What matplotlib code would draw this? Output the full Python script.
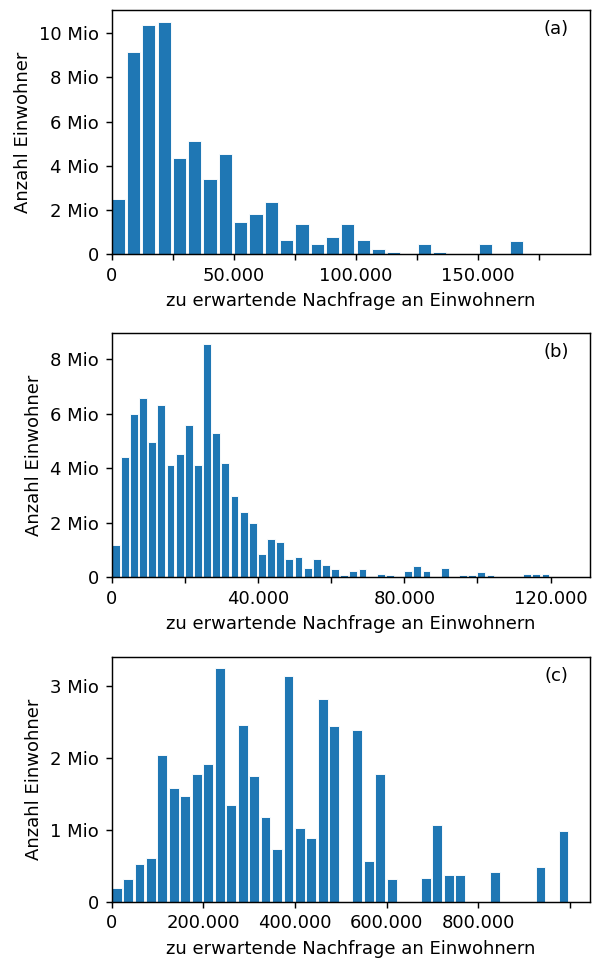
import numpy as np
import matplotlib
matplotlib.use("Agg")
import matplotlib.pyplot as plt
from matplotlib.ticker import FuncFormatter

# Population per demand class (in millions of inhabitants), one value per bin
bin_width_a = 6270
population_a = [2.49, 9.16, 10.39, 10.53, 4.35, 5.11, 3.38, 4.55, 1.47, 1.80,
                2.36, 0.65, 1.34, 0.44, 0.78, 1.34, 0.65, 0.23, 0.09, 0.0,
                0.44, 0.09, 0.0, 0.0, 0.44, 0.0, 0.57]

bin_width_b = 2500
population_b = [1.18, 4.41, 5.98, 6.59, 4.97, 6.31, 4.14, 4.53, 5.59, 4.14,
                8.55, 5.30, 4.20, 2.97, 2.41, 2.01, 0.85, 1.41, 1.30, 0.68,
                0.74, 0.35, 0.68, 0.46, 0.29, 0.07, 0.24, 0.29, 0.0, 0.13,
                0.07, 0.0, 0.24, 0.40, 0.24, 0.0, 0.35, 0.0, 0.07, 0.07,
                0.18, 0.07, 0.0, 0.0, 0.0, 0.13, 0.13, 0.13]

bin_width_c = 25000
population_c = [0.184, 0.313, 0.525, 0.607, 2.04, 1.58, 1.47, 1.77, 1.91, 3.24,
                1.34, 2.46, 1.74, 1.18, 0.73, 3.14, 1.03, 0.88, 2.82, 2.44,
                0.0, 2.39, 0.566, 1.77, 0.313, 0.0, 0.0, 0.336, 1.07, 0.377,
                0.377, 0.0, 0.0, 0.419, 0.0, 0.0, 0.0, 0.483, 0.0, 0.985]

# x ticks and which of them carry a label
xticks_a = [0, 25000, 50000, 75000, 100000, 125000, 150000, 175000]
xlabeled_a = [0, 50000, 100000, 150000]
xticks_b = [0, 20000, 40000, 60000, 80000, 100000, 120000]
xlabeled_b = [0, 40000, 80000, 120000]
xticks_c = [0, 200000, 400000, 600000, 800000, 1000000]
xlabeled_c = [0, 200000, 400000, 600000, 800000]

panel_tags = ["(a)", "(b)", "(c)"]
xlabel = "zu erwartende Nachfrage an Einwohnern"
ylabel = "Anzahl Einwohner"

DPI = 130
fig = plt.figure(figsize=(592 / DPI, 960 / DPI), dpi=DPI)
plt.rcParams["font.family"] = ["DejaVu Sans"]


def fmt_thousands(v):
    return f"{int(v):,}".replace(",", ".")


def fmt_mio(v, _pos):
    if v == 0:
        return "0"
    return f"{v / 1e6:g} Mio"


panels = [
    (population_a, bin_width_a, xticks_a, xlabeled_a, 196000,
     [0.1886, 0.7354, 0.8083, 0.2542]),
    (population_b, bin_width_b, xticks_b, xlabeled_b, 130800,
     [0.1886, 0.3986, 0.8083, 0.2548]),
    (population_c, bin_width_c, xticks_c, xlabeled_c, 1044000,
     [0.1886, 0.0607, 0.8083, 0.2552]),
]

for (values, bw, ticks, labeled, xmax, rect), tag in zip(panels, panel_tags):
    ax = fig.add_axes(rect)
    values = np.asarray(values) * 1e6
    lefts = np.arange(len(values)) * bw
    ax.bar(lefts, values, width=0.86 * bw, align="edge",
           color="#1f77b4", edgecolor="white", linewidth=0.5)
    ax.set_xlim(0, xmax)
    ax.set_ylim(0, values.max() * 1.05)
    ax.set_xticks(ticks)
    ax.set_xticklabels([fmt_thousands(t) if t in labeled else "" for t in ticks])
    ax.yaxis.set_major_formatter(FuncFormatter(fmt_mio))
    ax.set_xlabel(xlabel)
    ax.set_ylabel(ylabel)
    ax.text(0.955, 0.96, tag, transform=ax.transAxes, ha="right", va="top")

fig.savefig("out.png", dpi=DPI)
